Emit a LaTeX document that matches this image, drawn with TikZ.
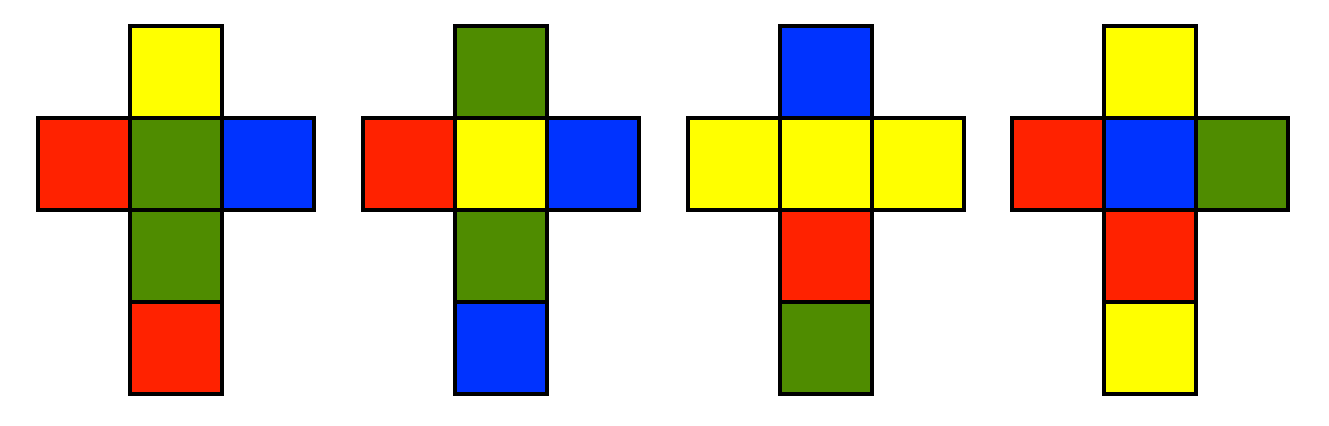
\documentclass[tikz,border=0pt]{standalone}
\usepackage{xcolor}
\usepackage{tikz}
\usetikzlibrary{positioning}
\definecolor{cubeyellow}{HTML}{FFFF00}
\definecolor{cubered}{HTML}{FF2200}
\definecolor{cubegreen}{HTML}{4F8C00}
\definecolor{cubeblue}{HTML}{0033FF}
\tikzset{
  face/.style={draw=black, line width=1.1pt, minimum size=1cm, inner sep=0pt, outer sep=0pt}
}
\begin{document}
\begin{tikzpicture}[node distance=0cm]
  \useasboundingbox (0,0) rectangle (14.446,4.630);
  % one net per entry: index/x/top/left/centre/right/down/bottom
  \foreach \i/\x/\ct/\cl/\cc/\cr/\cd/\cb in {
      1/1.913/cubeyellow/cubered/cubegreen/cubeblue/cubegreen/cubered,
      2/5.446/cubegreen/cubered/cubeyellow/cubeblue/cubegreen/cubeblue,
      3/8.978/cubeblue/cubeyellow/cubeyellow/cubeyellow/cubered/cubegreen,
      4/12.500/cubeyellow/cubered/cubeblue/cubegreen/cubered/cubeyellow} {
    \node[face, fill=\cc] (centre\i) at (\x,2.848) {};
    \node[face, fill=\ct, above=of centre\i] (top\i) {};
    \node[face, fill=\cl, left=of centre\i] (left\i) {};
    \node[face, fill=\cr, right=of centre\i] (right\i) {};
    \node[face, fill=\cd, below=of centre\i] (down\i) {};
    \node[face, fill=\cb, below=of down\i] (bottom\i) {};
  }
\end{tikzpicture}
\end{document}
